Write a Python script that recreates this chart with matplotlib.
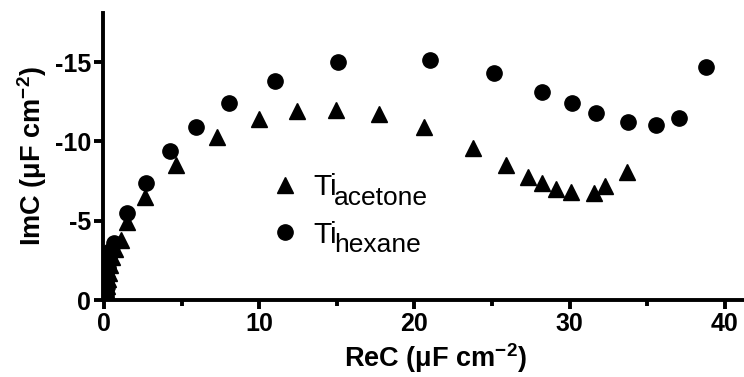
import numpy as np
import matplotlib
matplotlib.use("Agg")
from matplotlib import pyplot as plt

plt.rcParams['font.family'] = ['Liberation Sans', 'DejaVu Sans']
plt.rcParams['mathtext.fontset'] = 'custom'
plt.rcParams['mathtext.rm'] = 'Liberation Sans'
plt.rcParams['mathtext.bf'] = 'Liberation Sans:bold'

# Ti in acetone (ReC, ImC)
re_acetone = [0.1, 0.15, 0.2, 0.25, 0.3, 0.4, 0.5, 0.7, 1.1, 1.5, 2.6, 4.6, 7.3, 10.0,
              12.4, 14.95, 17.7, 20.6, 23.8, 25.9, 27.3, 28.2, 29.15, 30.1, 31.6, 32.3, 33.7]
im_acetone = [-0.2, -0.5, -0.9, -1.3, -1.7, -2.2, -2.7, -3.2, -3.8, -4.9, -6.5, -8.5, -10.3, -11.4,
              -11.9, -12.0, -11.7, -10.9, -9.6, -8.5, -7.75, -7.4, -7.0, -6.8, -6.75, -7.2, -8.1]

# Ti in hexane (ReC, ImC)
re_hexane = [0.1, 0.15, 0.2, 0.25, 0.3, 0.4, 0.64, 1.47, 2.67, 4.27, 5.92, 8.06, 11.0, 15.06,
             21.0, 25.1, 28.25, 30.15, 31.7, 33.76, 35.6, 37.07, 38.8]
im_hexane = [-0.3, -0.8, -1.4, -2.0, -2.6, -3.1, -3.6, -5.5, -7.4, -9.4, -10.9, -12.4, -13.8, -15.0,
             -15.1, -14.3, -13.1, -12.4, -11.8, -11.2, -11.05, -11.5, -14.7]

fig = plt.figure(figsize=(7.44, 3.77), dpi=100)
ax = fig.add_axes([0.138, 0.204, 0.861, 0.762])

ax.plot(re_acetone, im_acetone, '^', color='black', markersize=12, linestyle='none', label='Ti')
ax.plot(re_hexane, im_hexane, 'o', color='black', markersize=11, linestyle='none', label='Ti')

ax.set_xlim(-0.1, 41.2)
ax.set_ylim(0, -18.1)
ax.set_xticks([0, 10, 20, 30, 40])
ax.set_xticks([5, 15, 25, 35], minor=True)
ax.set_yticks([0, -5, -10, -15])
ax.set_yticklabels(['0', '-5', '-10', '-15'])

for s in ['top', 'right']:
    ax.spines[s].set_visible(False)
for s in ['left', 'bottom']:
    ax.spines[s].set_linewidth(2.8)
ax.tick_params(which='major', length=6.5, width=2.8, labelsize=18, pad=2)
ax.tick_params(which='minor', length=4, width=2.8)
for lab in ax.get_xticklabels() + ax.get_yticklabels():
    lab.set_fontweight('bold')

ax.set_xlabel('ReC (μF cm$^{\\mathbf{-2}}$)', fontsize=19.5, fontweight='bold', labelpad=4)
ax.xaxis.label.set_x(0.52)
ax.set_ylabel('ImC (μF cm$^{\\mathbf{-2}}$)', fontsize=19.5, fontweight='bold', labelpad=4)

leg = ax.legend(loc='center left', bbox_to_anchor=(0.242, 0.31), frameon=False, fontsize=21.5,
                handletextpad=0.45, labelspacing=0.65, borderaxespad=0, handlelength=1.0)
for txt, sub in zip(leg.get_texts(), ['acetone', 'hexane']):
    ax.annotate(sub, xy=(1, 0), xycoords=txt, xytext=(-2, -2.5), textcoords='offset points',
                ha='left', va='baseline', fontsize=19, zorder=10)

fig.canvas.draw()
fig.savefig('out.png', dpi=100)
